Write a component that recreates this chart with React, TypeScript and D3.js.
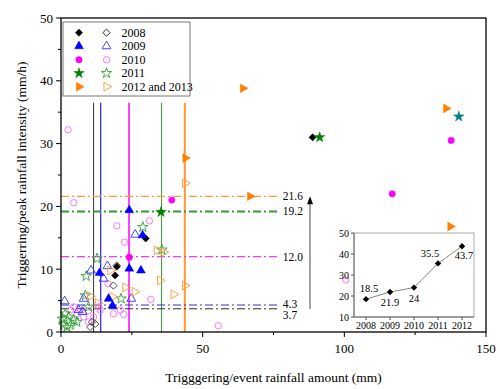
import React from "react";
import * as d3 from "d3";

type P = [number, number];

// filled = rainfall thresholds with landslides, open = without
const filled2008: P[] = [[29.9, 14.9], [19.7, 10.4], [19.1, 9.0], [88.8, 31.0]];
const open2008: P[] = [[19.7, 10.6], [18.5, 7.4], [10.9, 1.6], [10.3, 0.8], [12.1, 1.3]];
const filled2009: P[] = [[24.1, 19.4], [28.8, 15.4], [13.6, 9.4], [24.1, 10.1], [28.2, 9.8], [16.8, 5.3], [18.2, 4.2]];
const open2009: P[] = [[26.2, 15.5], [10.6, 9.8], [16.4, 10.5], [15.0, 8.5], [24.8, 5.3], [8.0, 5.3], [1.3, 4.9], [6.2, 3.5], [7.6, 3.2]];
const filled2010: P[] = [[39.1, 21.0], [24.1, 11.9], [116.9, 22.0], [137.7, 30.5]];
const open2010: P[] = [[4.5, 20.6], [31.2, 17.7], [19.7, 16.9], [22.4, 14.3], [16.6, 7.7], [31.7, 5.2], [18.5, 2.9], [20.9, 3.5], [22.1, 2.8],
  [4.5, 4.0], [5.6, 2.9], [8.0, 2.4], [9.7, 1.6], [9.7, 3.4], [11.5, 2.4], [6.8, 3.7], [3.3, 3.5], [13.3, 4.0], [13.8, 3.5], [2.5, 32.2], [100.5, 8.3], [55.5, 1.0]];
const filled2011: P[] = [[35.3, 19.1], [91.3, 31.0]];
const open2011: P[] = [[28.9, 16.7], [35.6, 13.1], [12.7, 11.7], [8.9, 8.9], [21.2, 5.3], [8.6, 5.8], [9.7, 4.0],
  [0.9, 1.1], [2.7, 2.4], [2.1, 0.8], [4.5, 1.9], [5.6, 1.6], [3.3, 1.1], [0.4, 2.1], [1.5, 2.9]];
const filled2012: P[] = [[66.7, 21.6], [43.9, 27.7], [64.2, 38.8], [135.9, 35.6], [137.4, 16.8]];
const open2012: P[] = [[43.8, 23.7], [33.8, 13.0], [36.2, 12.7], [17.4, 9.8], [22.7, 7.1], [35.0, 8.2], [43.8, 7.4], [39.7, 6.0], [26.0, 6.4], [18.2, 5.6], [10.3, 5.7], [13.0, 4.6]];
const tealStar: P[] = [[140.4, 34.3]];

const legendLabels = ["2008", "2009", "2010", "2011", "2012 and 2013"];

// threshold lines
const vLines = [11.5, 14.0, 24.0, 35.5, 43.7];
const hLines = [21.6, 19.2, 12.0, 4.3, 3.7];
const hLabelShift = [0, 0, 0, -1, 6];

// inset: event rainfall threshold per year
const insetYears = [2008, 2009, 2010, 2011, 2012];
const insetValues = [18.5, 21.9, 24, 35.5, 43.7];
const insetLabels = ["18.5", "21.9", "24", "35.5", "43.7"];

const xTicks = [0, 50, 100, 150];
const yTicks = [0, 10, 20, 30, 40, 50];

const W = 500, H = 389;
const left = 61, right = 486, top = 18, bottom = 332;
const font = "'Liberation Serif', 'Times New Roman', serif";

const x = d3.scaleLinear().domain([0, 150]).range([left, right]);
const y = d3.scaleLinear().domain([0, 50]).range([bottom, top]);

const ix = d3.scaleLinear().domain([2007.5, 2012.5]).range([354, 474]);
const iy = d3.scaleLinear().domain([10, 50]).range([317, 233]);

const col = {
  k: "#000000", b: "#0000ff", m: "#ff00ff", g: "#008000", o: "#ff7f00",
  bo: "#3333ff", mo: "#ff66ff", go: "#33a033", oo: "#ff9933",
};

const star = d3.symbol(d3.symbolStar, 34)()!;
const diamond = d3.symbol(d3.symbolSquare, 26)()!;
const tri = d3.symbol(d3.symbolTriangle, 34)()!;
const circ = d3.symbol(d3.symbolCircle, 32)()!;

type Kind = "d" | "t" | "c" | "s" | "r";
function shape(k: Kind) {
  return k === "d" ? diamond : k === "t" ? tri : k === "c" ? circ : k === "s" ? star : tri;
}

function Marker({ k, cx, cy, color, open }: { k: Kind; cx: number; cy: number; color: string; open?: boolean }) {
  const rot = k === "r" ? " rotate(90)" : k === "d" ? " rotate(45)" : "";
  return (
    <path
      d={shape(k)}
      transform={`translate(${cx},${cy})${rot}`}
      fill={open ? "none" : color}
      stroke={color}
      strokeWidth={open ? 0.9 : 0.5}
    />
  );
}

const series: { pts: P[]; k: Kind; color: string; open?: boolean }[] = [
  { pts: open2010, k: "c", color: col.mo, open: true },
  { pts: open2011, k: "s", color: col.go, open: true },
  { pts: open2008, k: "d", color: "#444", open: true },
  { pts: open2009, k: "t", color: col.bo, open: true },
  { pts: open2012, k: "r", color: col.oo, open: true },
  { pts: filled2008, k: "d", color: col.k },
  { pts: filled2009, k: "t", color: col.b },
  { pts: filled2010, k: "c", color: col.m },
  { pts: filled2011, k: "s", color: col.g },
  { pts: filled2012, k: "r", color: col.o },
  { pts: tealStar, k: "s", color: "#008080" },
];

const vStyle = [
  { c: "#333", w: 1 }, { c: "#3333ff", w: 1.3 }, { c: "#ff00ff", w: 1.5 }, { c: "#339933", w: 1 }, { c: "#ff9933", w: 2 },
];
const hStyle = [
  { c: "#ff9933", w: 1.2 }, { c: "#339933", w: 2 }, { c: "#ff33ff", w: 1.2 }, { c: "#3333cc", w: 1.2 }, { c: "#333", w: 1.2 },
];

export default function App() {
  const line = d3.line<number>().x((_, i) => ix(insetYears[i])).y(d => iy(d));
  const lineEnd = x(76.5);
  return (
    <svg width={W} height={H} style={{ position: "absolute", left: 0, top: 0, fontFamily: font }}>
      <rect x={0} y={0} width={W} height={H} fill="#fff" />
      {/* threshold lines */}
      {vLines.map((v, i) => (
        <line key={"v" + i} x1={x(v)} x2={x(v)} y1={bottom} y2={y(36.5)} stroke={vStyle[i].c} strokeWidth={vStyle[i].w} />
      ))}
      {hLines.map((v, i) => (
        <g key={"h" + i}>
          <line x1={left} x2={lineEnd} y1={y(v)} y2={y(v)} stroke={hStyle[i].c} strokeWidth={hStyle[i].w} strokeDasharray="8,3,2,3" />
          <text x={lineEnd + 5} y={y(v) + hLabelShift[i] + 4} fontSize={11.5}>{v.toFixed(1)}</text>
        </g>
      ))}
      {/* arrow */}
      <line x1={310} x2={310} y1={y(3.7)} y2={y(21.6) + 6} stroke="#666" strokeWidth={1.2} />
      <path d={`M310,${y(21.6)} L307,${y(21.6) + 8} L313,${y(21.6) + 8} Z`} fill="#000" />

      {series.map((s, si) => (
        <g key={"s" + si}>
          {s.pts.map((p, i) => (
            <Marker key={i} k={s.k} cx={x(p[0])} cy={y(p[1])} color={s.color} open={s.open} />
          ))}
        </g>
      ))}

      {/* frame + axes */}
      <rect x={left} y={top} width={right - left} height={bottom - top} fill="none" stroke="#000" strokeWidth={1.3} />
      {yTicks.map(t => (
        <g key={"yt" + t}>
          <line x1={left - 5} x2={left} y1={y(t)} y2={y(t)} stroke="#000" />
          <text x={left - 8} y={y(t) + 4.5} fontSize={13} textAnchor="end">{t}</text>
        </g>
      ))}
      {d3.range(5, 50, 10).map(t => (
        <line key={"ym" + t} x1={left - 3} x2={left} y1={y(t)} y2={y(t)} stroke="#000" />
      ))}
      {xTicks.map(t => (
        <g key={"xt" + t}>
          <line x1={x(t)} x2={x(t)} y1={bottom} y2={bottom + 5} stroke="#000" />
          <text x={x(t)} y={bottom + 21} fontSize={13} textAnchor="middle">{t}</text>
        </g>
      ))}
      {d3.range(25, 150, 50).map(t => (
        <line key={"xm" + t} x1={x(t)} x2={x(t)} y1={bottom} y2={bottom + 3} stroke="#000" />
      ))}
      <text x={(left + right) / 2} y={382} fontSize={13.5} textAnchor="middle">Trigggering/event rainfall amount (mm)</text>
      <text transform={`translate(26,${(top + bottom) / 2}) rotate(-90)`} fontSize={13.5} textAnchor="middle">
        Triggerring/peak rainfall intensity (mm/h)
      </text>

      {/* legend */}
      <rect x={63} y={22} width={127} height={74} fill="#fff" stroke="#555" strokeWidth={0.8} />
      {legendLabels.map((l, i) => {
        const ly = 32.7 + i * 13.5;
        const kinds: Kind[] = ["d", "t", "c", "s", "r"];
        const fc = [col.k, col.b, col.m, col.g, col.o][i];
        const oc = ["#222", col.bo, col.mo, col.go, col.oo][i];
        return (
          <g key={"l" + i}>
            <Marker k={kinds[i]} cx={79} cy={ly} color={fc} />
            <Marker k={kinds[i]} cx={106.5} cy={ly} color={oc} open />
            <text x={121.5} y={ly + 4} fontSize={12}>{l}</text>
          </g>
        );
      })}

      {/* inset */}
      <rect x={354} y={233} width={120} height={84} fill="#fff" stroke="#aaa" strokeWidth={1} />
      <line x1={354} x2={354} y1={233} y2={317} stroke="#666" />
      <line x1={354} x2={474} y1={317} y2={317} stroke="#666" />
      {[10, 20, 30, 40, 50].map(t => (
        <g key={"it" + t}>
          <line x1={351} x2={354} y1={iy(t)} y2={iy(t)} stroke="#555" />
          <text x={349} y={iy(t) + 3.5} fontSize={10} textAnchor="end">{t}</text>
        </g>
      ))}
      {insetYears.map(t => (
        <g key={"ix" + t}>
          <line x1={ix(t)} x2={ix(t)} y1={317} y2={320} stroke="#555" />
          <text x={ix(t)} y={329} fontSize={10} textAnchor="middle">{t}</text>
        </g>
      ))}
      <path d={line(insetValues)!} fill="none" stroke="#777" strokeWidth={0.9} />
      {insetValues.map((v, i) => (
        <path key={"ip" + i} d={d3.symbol(d3.symbolSquare, 20)()!} transform={`translate(${ix(insetYears[i])},${iy(v)}) rotate(45)`} fill="#000" />
      ))}
      {insetValues.map((v, i) => {
        const off = [[3, -7], [0, 14], [0, 14], [-8, -6], [2, 13]][i];
        return (
          <text key={"il" + i} x={ix(insetYears[i]) + off[0]} y={iy(v) + off[1]} fontSize={10.5} textAnchor="middle">{insetLabels[i]}</text>
        );
      })}
    </svg>
  );
}
